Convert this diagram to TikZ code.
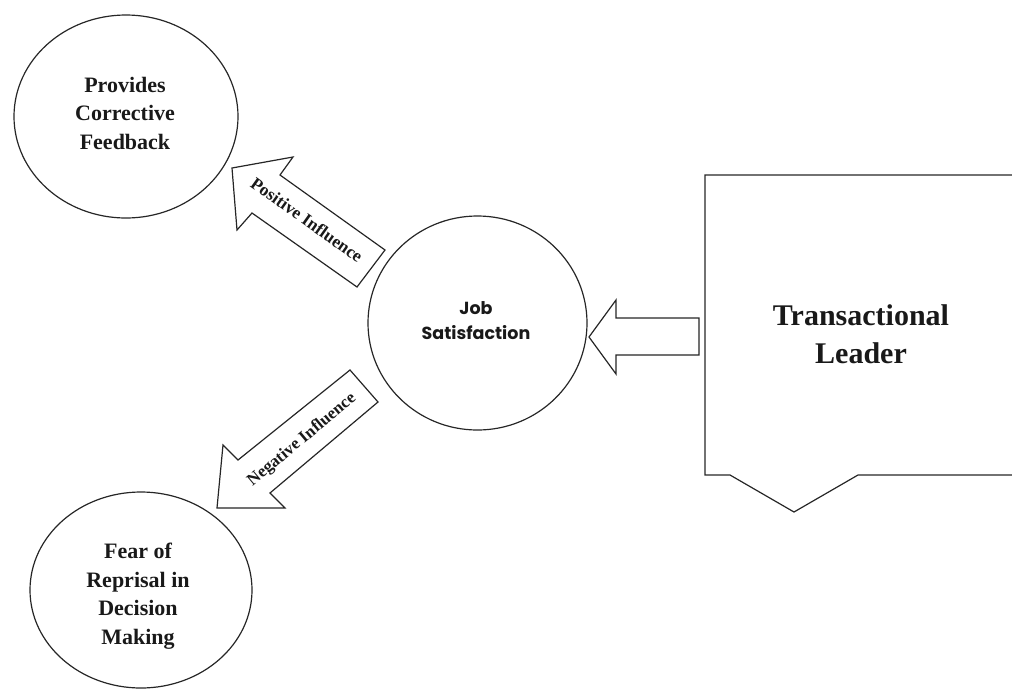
\documentclass[tikz,border=0pt]{standalone}
\usepackage{fontspec}
\setmainfont{Liberation Serif}
\newfontfamily\geo{Poppins}
\usetikzlibrary{shapes.geometric}
\tikzset{
  bubble/.style={ellipse,draw=black!85,line width=1.2pt,inner sep=0pt},
  blockarrow/.style={draw=black!85,line width=1.2pt,line join=miter,fill=white},
  bigtext/.style={font=\fontsize{22}{28.5}\selectfont\bfseries,align=center,text=black!90},
  arrowtext/.style={font=\fontsize{17.5}{20}\selectfont\bfseries,text=black!90,inner sep=0pt},
}
\begin{document}
\begin{tikzpicture}[x=1pt,y=-1pt]
\useasboundingbox (0,0) rectangle (1012,689);
% circles
\node[bubble,minimum width=224pt,minimum height=203pt] (pcf) at (126,116.5) {};
\node[bubble,minimum width=219pt,minimum height=214pt] (js) at (477.5,323) {};
\node[bubble,minimum width=222pt,minimum height=196pt] (fear) at (141,590) {};
% circle texts
\node[bigtext] (pcft) at (125,113) {Provides\\Corrective\\Feedback};
\node[bigtext] (feart) at (138,596) {Fear of\\Reprisal in\\Decision\\Making};
\node[font=\fontsize{17.5}{25}\geo\bfseries\selectfont,align=center,text=black!90] (jst) at (476,321) {Job\\Satisfaction};
% transactional leader shape
\draw[draw=black!85,line width=1.2pt,line join=miter] (1012,175) -- (705,175) -- (705,475) -- (730,475) -- (794,512) -- (858,475) -- (1012,475);
\node[font=\fontsize{30}{38}\selectfont\bfseries,align=center,text=black!90] (tl) at (861,334) {Transactional\\Leader};
% right block arrow into Job Satisfaction
\draw[blockarrow] (589,337) -- (616,300) -- (616,318) -- (699,318) -- (699,355) -- (616,355) -- (616,374) -- cycle;
% positive influence arrow
\draw[blockarrow] (232,168) -- (293,157) -- (280,175) -- (385,250) -- (357,287) -- (252,213) -- (237,230) -- cycle;
\node[arrowtext,rotate=-35.5] (pos) at (307,220) {Positive Influence};
% negative influence arrow
\draw[blockarrow] (217,508) -- (223,445) -- (238,460) -- (350,370) -- (378,402) -- (270,493) -- (285,508) -- cycle;
\node[arrowtext,font=\fontsize{17}{20}\selectfont\bfseries,rotate=40] (neg) at (302,440) {Negative Influence};
\end{tikzpicture}
\end{document}
